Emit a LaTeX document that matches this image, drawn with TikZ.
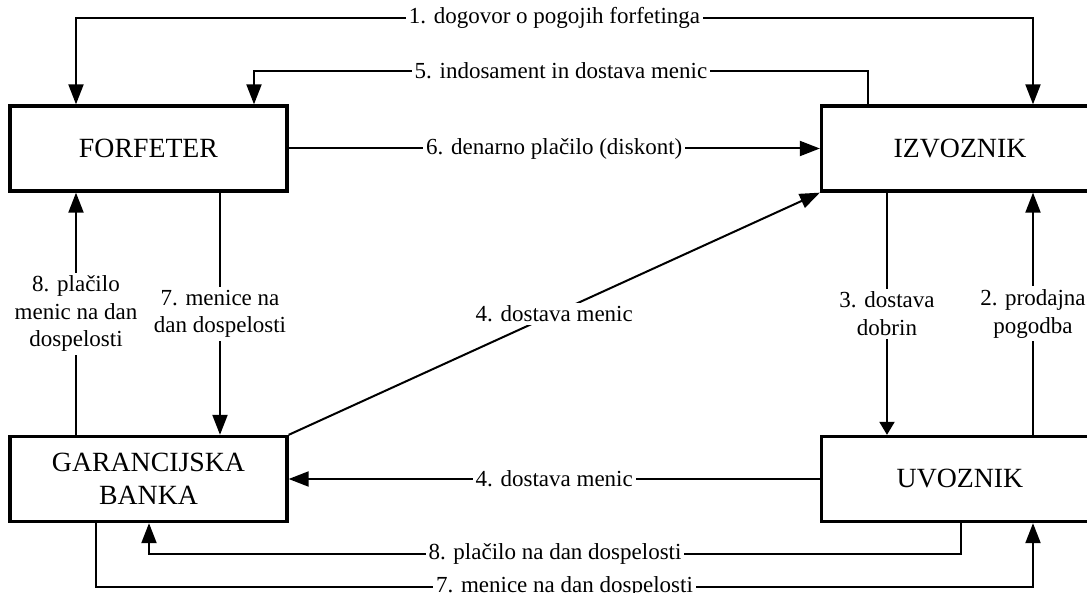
\documentclass[tikz,border=0pt]{standalone}
\usepackage{fontspec}
\setmainfont{Liberation Serif}
\usetikzlibrary{arrows.meta}
\begin{document}
\begin{tikzpicture}[x=1pt,y=-1pt,
  party/.style={draw, line width=3.3pt, minimum width=277pt, minimum height=85pt,
    inner sep=0pt, align=center, font=\fontsize{27.8}{33.4}\selectfont},
  conn/.style={line width=2pt},
  arr/.style={conn, -{Triangle[length=20pt,width=15pt]}},
  arrs/.style={conn, -{Triangle[length=13pt,width=15pt]}},
  arrb/.style={conn, {Triangle[length=20pt,width=15pt]}-{Triangle[length=20pt,width=15pt]}},
  lbl/.style={fill=white, inner sep=3pt, align=center, font=\fontsize{23}{27.6}\selectfont}]
\fill[white] (0,0) rectangle (1087,593);
\clip (0,0) rectangle (1087,593);

% parties
\node[party] (F) at (148.5,148.5) {FORFETER};
\node[party] (I) at (960,148.5) {IZVOZNIK};
\node[party] (G) at (148.5,479) {GARANCIJSKA\\BANKA};
\node[party] (U) at (960,479) {UVOZNIK};

% connector columns and rows
\coordinate (cA) at (76,0);
\coordinate (cB) at (254,0);
\coordinate (cC) at (220,0);
\coordinate (cD) at (868,0);
\coordinate (cE) at (1033,0);
\coordinate (cF) at (887,0);
\coordinate (cG) at (961,0);
\coordinate (cH) at (149,0);
\coordinate (cI) at (96,0);
\coordinate (r1) at (0,18);
\coordinate (r5) at (0,71);
\coordinate (r8) at (0,554);
\coordinate (r7) at (0,587);

% top
\draw[arrb] (I.north -| cE) -- (cE |- r1) -- node[lbl]{1. dogovor o pogojih forfetinga} (cA |- r1) -- (F.north -| cA);
\draw[arr] (I.north -| cD) -- (cD |- r5) -- node[lbl]{5. indosament in dostava menic} (cB |- r5) -- (F.north -| cB);
\draw[arr] (F.east) -- node[lbl]{6. denarno plačilo (diskont)} (I.west);

% left column
\draw[arr] (G.north -| cA) -- node[lbl]{8. plačilo\\menic na dan\\dospelosti} (F.south -| cA);
\draw[arr] (F.south -| cC) -- node[lbl]{7. menice na\\dan dospelosti} (G.north -| cC);

% diagonal
\draw[arr] (G.north east) -- node[lbl]{4. dostava menic} (I.south west);

% right column
\draw[arrs] (I.south -| cF) -- node[lbl]{3. dostava\\dobrin} (U.north -| cF);
\draw[arr] (U.north -| cE) -- node[lbl]{2. prodajna\\pogodba} (I.south -| cE);

% bottom
\draw[arr] (U.west) -- node[lbl]{4. dostava menic} (G.east);
\draw[arr] (U.south -| cG) -- (cG |- r8) -- node[lbl]{8. plačilo na dan dospelosti} (cH |- r8) -- (G.south -| cH);
\draw[arr] (G.south -| cI) -- (cI |- r7) -- node[lbl]{7. menice na dan dospelosti} (cE |- r7) -- (U.south -| cE);
\end{tikzpicture}
\end{document}
